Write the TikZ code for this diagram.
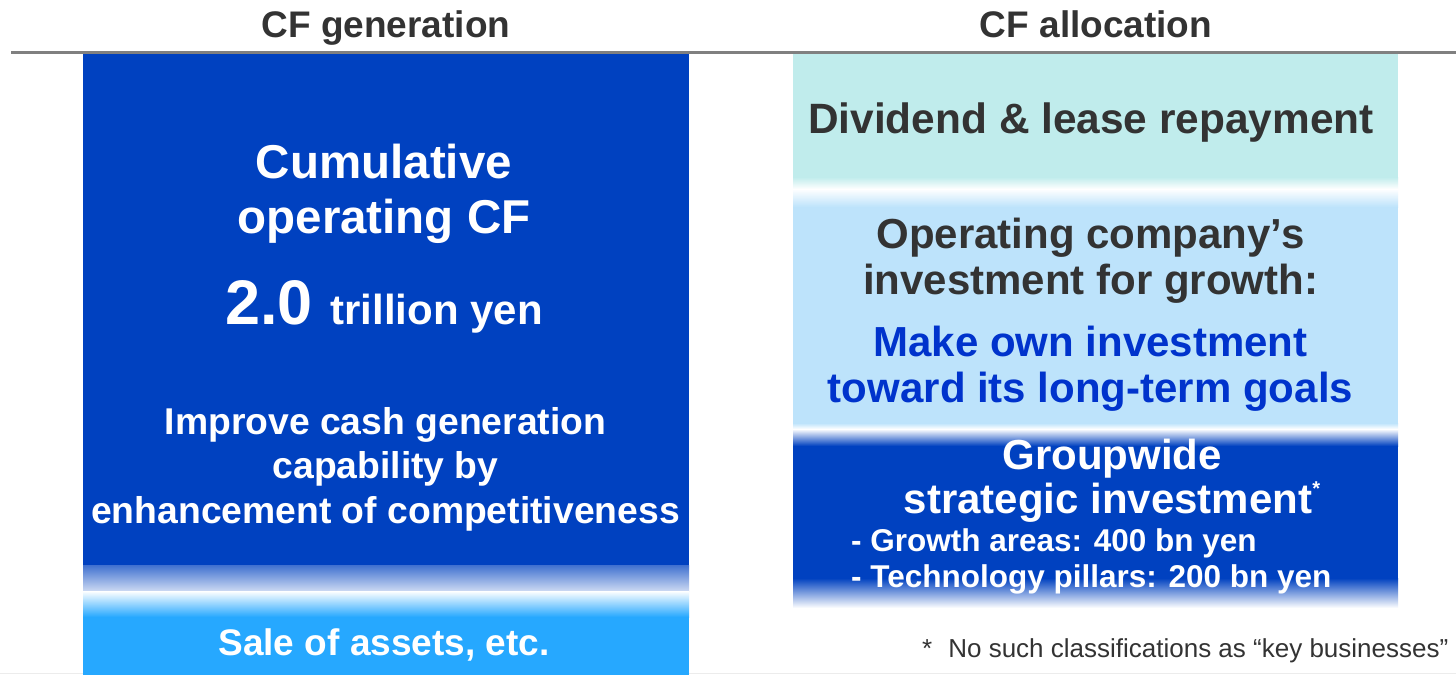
\documentclass[tikz,border=0pt]{standalone}
\usepackage{fontspec}
\setmainfont{Liberation Sans}
\usepackage{xcolor}
\usetikzlibrary{positioning}

\definecolor{cfdark}{RGB}{0,65,192}
\definecolor{cfsky}{RGB}{38,168,255}
\definecolor{cfteal}{RGB}{192,236,236}
\definecolor{cfpale}{RGB}{189,227,251}
\definecolor{cfgray}{RGB}{51,51,51}
\definecolor{cfblue}{RGB}{0,51,204}
\definecolor{cfrule}{RGB}{128,128,128}

\newcommand{\fs}[2]{\fontsize{#1}{#2}\selectfont}

\tikzset{
  head/.style={text=cfgray, font=\fs{37}{40}\bfseries, anchor=base},
  whitetxt/.style={text=white, font=\bfseries, anchor=base, align=center, inner sep=0pt},
  graytxt/.style={text=cfgray, font=\fs{42}{46}\bfseries, anchor=base, align=center, inner sep=0pt},
  bluetxt/.style={text=cfblue, font=\fs{42}{46}\bfseries, anchor=base, align=center, inner sep=0pt}
}

\begin{document}
\begin{tikzpicture}[x=1pt, y=-1pt]
\useasboundingbox (0,0) rectangle (1456,675);
\fill[white] (0,0) rectangle (1456,675);

% column headings and rule
\node[head] (hgen) at (386,37) {CF generation};
\node[head] (halloc) at (1096,37) {CF allocation};
\draw[cfrule, line width=3pt] (11,52) -- (1456,52);
\draw[gray!15, line width=1pt] (0,673.5) -- (1456,673.5);

% generation column
\fill[cfdark] (83,54) rectangle (689,565);
\shade[top color=cfdark!75!white, bottom color=cfdark!20!white] (83,565) rectangle (689,591);
\shade[top color=white, bottom color=cfsky] (83,591) rectangle (689,617);
\fill[cfsky] (83,617) rectangle (689,675);

% allocation column
\fill[cfteal] (793,54) rectangle (1398,177);
\shade[top color=cfteal, bottom color=white] (793,177) rectangle (1398,189);
\shade[top color=white, bottom color=cfpale] (793,189) rectangle (1398,207);
\fill[cfpale] (793,207) rectangle (1398,423);
\shade[top color=cfpale, bottom color=white] (793,423) rectangle (1398,429);
\shade[top color=white, bottom color=cfdark] (793,429) rectangle (1398,446);
\fill[cfdark] (793,446) rectangle (1398,578);
\shade[top color=cfdark, bottom color=white] (793,578) rectangle (1398,608);

% texts, generation (base = last line)
\node[whitetxt, font=\fs{47.5}{55}\bfseries] (cum) at (384,233) {Cumulative\\operating CF};
\node[whitetxt] (total) at (384,324) {\fs{63}{63}2.0 \fs{42}{42}trillion yen};
\node[whitetxt, font=\fs{37.3}{44.5}\bfseries] (improve) at (385.5,523) {Improve cash generation\\capability by\\enhancement of competitiveness};
\node[whitetxt, font=\fs{37}{40}\bfseries] (sale) at (384,655) {Sale of assets, etc.};

% texts, allocation
\node[graytxt, font=\fs{42.4}{46}\bfseries] (divid) at (1091,133) {Dividend \& lease repayment};
\node[graytxt] (opco) at (1090.5,294) {Operating company’s\\investment for growth:};
\node[bluetxt] (own) at (1090.5,402) {Make own investment\\toward its long-term goals};
\node[whitetxt, font=\fs{42}{44}\bfseries] (group) at (1112,513) {Groupwide\\strategic investment\raisebox{18pt}{\fs{20}{20}*}};
\node[whitetxt, font=\fs{31.5}{36}\bfseries, anchor=base west, align=left] (areas) at (851,587) {- Growth areas: 400 bn yen\\- Technology pillars: 200 bn yen};
\node[text=cfgray, font=\fs{26}{28}, anchor=base west, inner sep=0pt] (note) at (922,657) {*\hspace{16pt}No such classifications as “key businesses”};
\end{tikzpicture}
\end{document}
